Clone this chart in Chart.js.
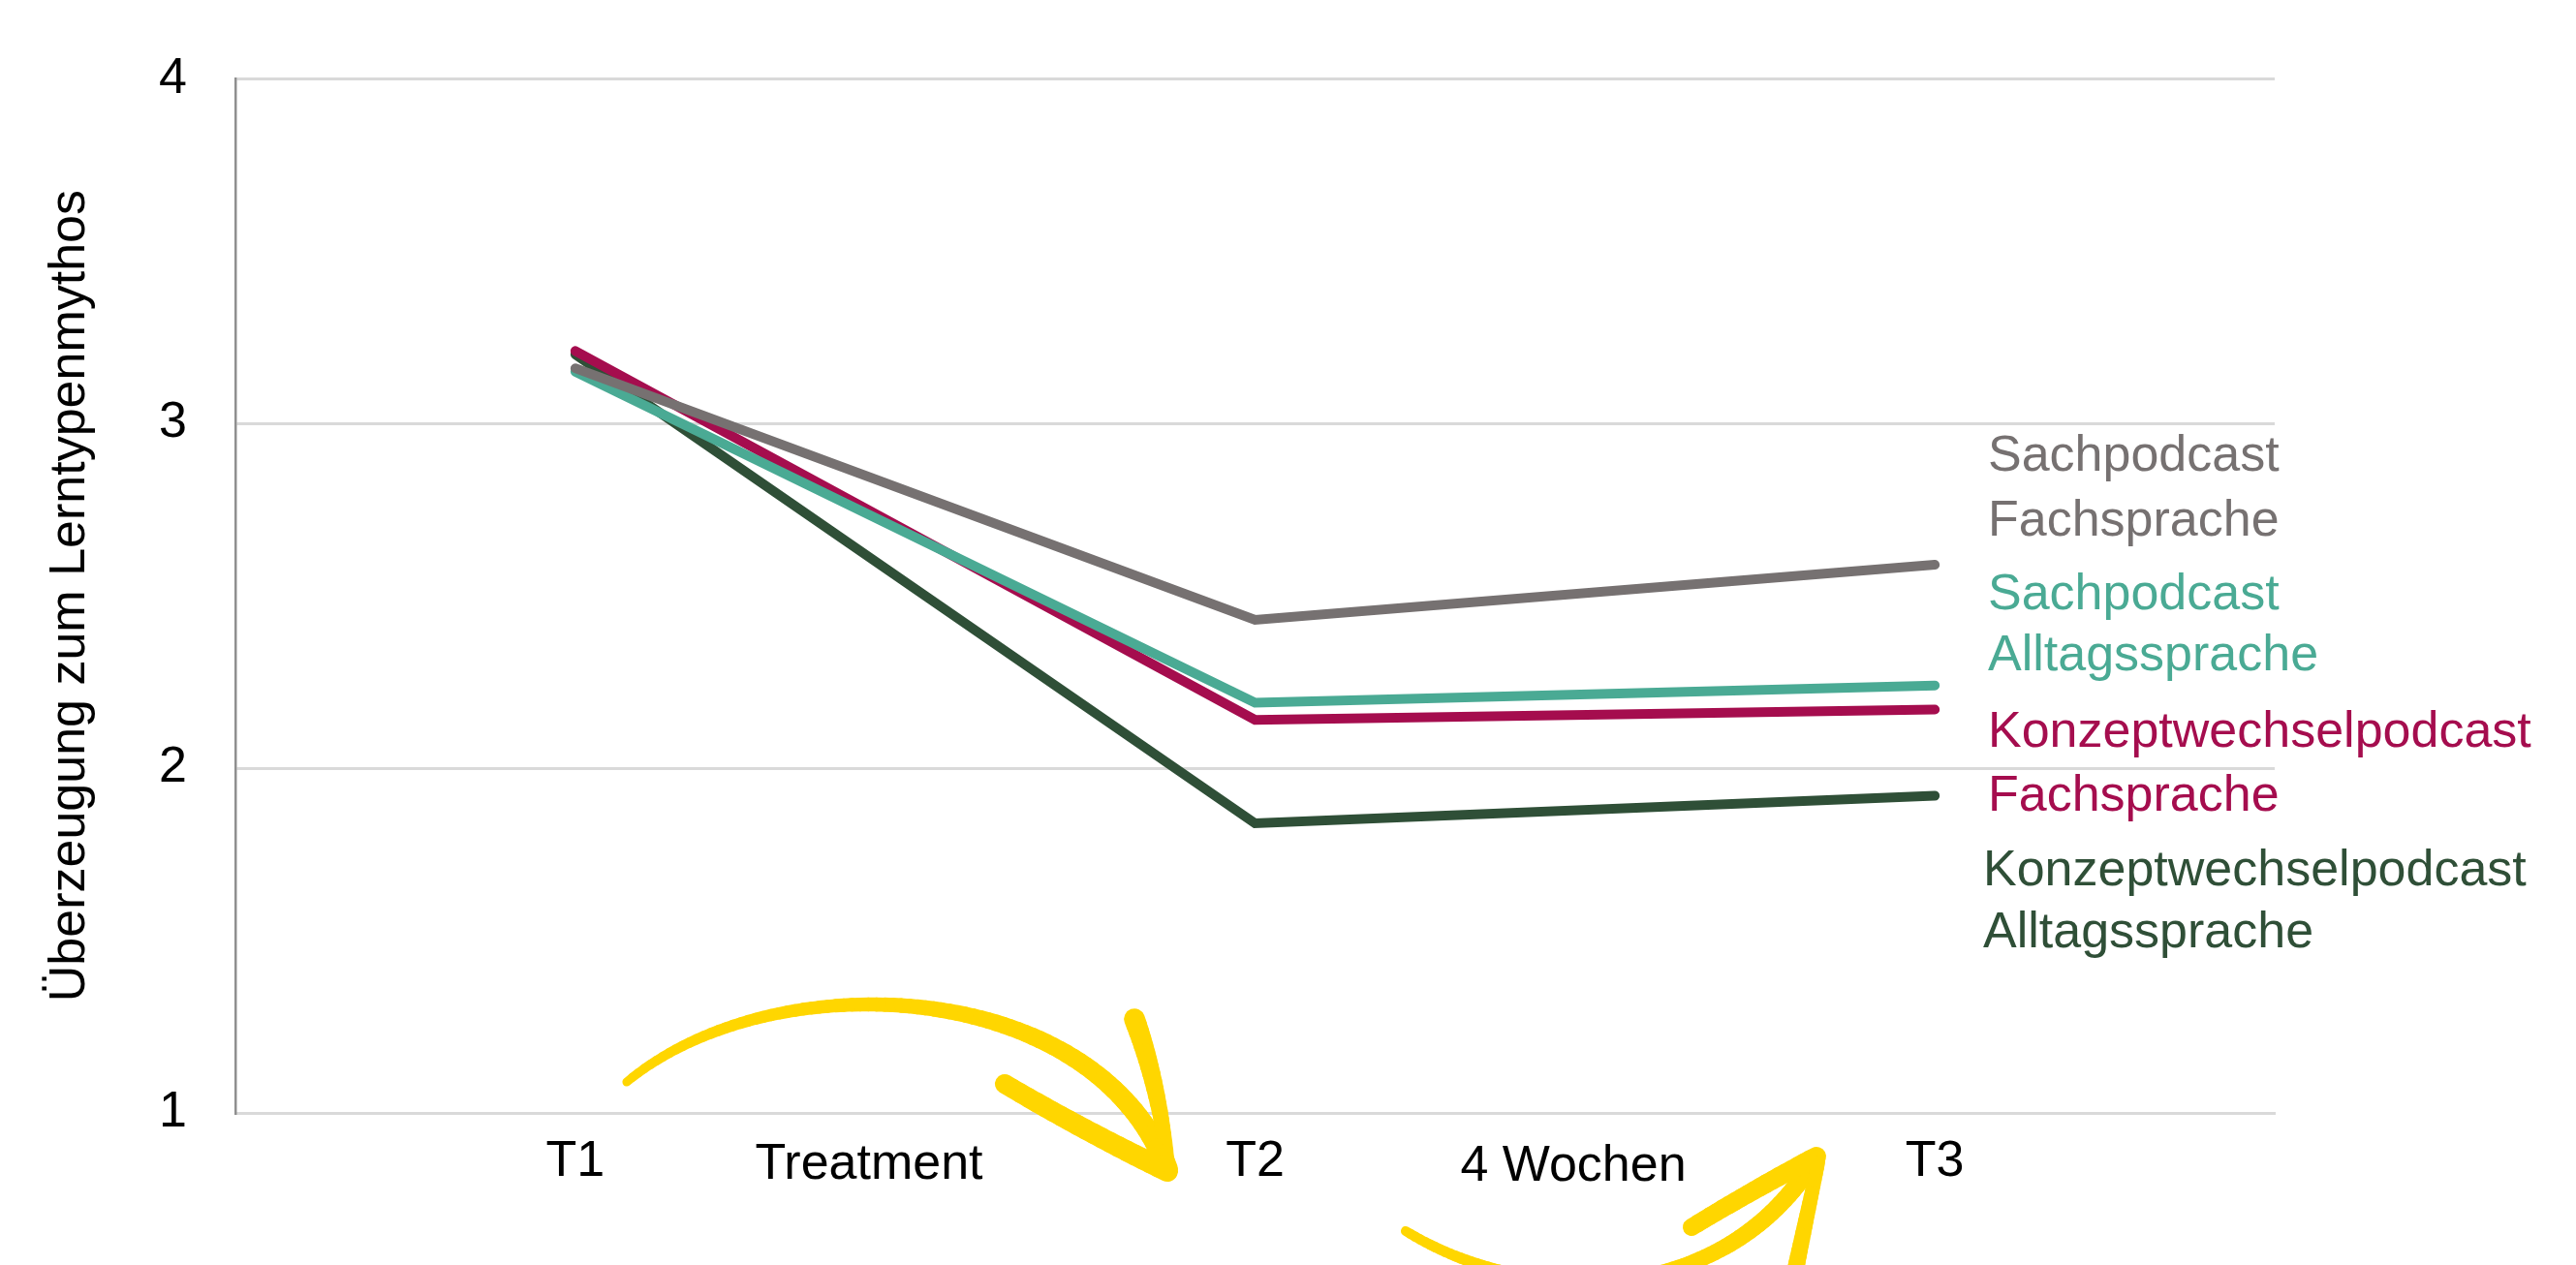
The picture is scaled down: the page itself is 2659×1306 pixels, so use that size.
<!DOCTYPE html>
<html>
<head>
<meta charset="utf-8">
<script src="https://cdn.jsdelivr.net/npm/chart.js@4/dist/chart.umd.min.js"></script>
<style>
  html, body { margin: 0; padding: 0; background: #ffffff; }
  #wrap { width: 2659px; height: 1306px; }
</style>
</head>
<body>
<div id="wrap"><canvas id="c" width="2659" height="1306"></canvas></div>
<script>
// ---------- data ----------
const categories = ['T1', 'T2', 'T3'];
const yTicks = [1, 2, 3, 4];
const seriesNames = [
  'Sachpodcast Fachsprache',
  'Sachpodcast Alltagssprache',
  'Konzeptwechselpodcast Fachsprache',
  'Konzeptwechselpodcast Alltagssprache'
];
const sachFach = [3.16, 2.43, 2.59];
const sachAlltag = [3.15, 2.19, 2.24];
const konzeptFach = [3.21, 2.14, 2.17];
const konzeptAlltag = [3.20, 1.84, 1.92];
const yTitle = 'Überzeugung zum Lerntypenmythos';
const endLabels = [
  ['Sachpodcast', 'Fachsprache'],
  ['Sachpodcast', 'Alltagssprache'],
  ['Konzeptwechselpodcast', 'Fachsprache'],
  ['Konzeptwechselpodcast', 'Alltagssprache']
];
const phaseLabels = ['Treatment', '4 Wochen'];

// ---------- styles ----------
const colors = ['#767171', '#4AAA94', '#A50D4E', '#2F4F37'];
const FONT = '"Liberation Sans", Arial, Helvetica, sans-serif';
const YELLOW = '#FFD600';

// label placement (pixels)
const endLabelX = [2052, 2052, 2052, 2047];
const endLabelY = [[472, 539], [615, 678], [757, 823], [900, 964]];
const phaseX = [897, 1624];
const phaseY = [1203, 1205];

function strokeTapered(ctx, pts, w0, w1) {
  ctx.lineCap = 'round';
  ctx.lineJoin = 'round';
  for (let i = 1; i < pts.length; i++) {
    const t = i / (pts.length - 1);
    ctx.lineWidth = w0 + (w1 - w0) * t;
    ctx.beginPath();
    ctx.moveTo(pts[i - 1][0], pts[i - 1][1]);
    ctx.lineTo(pts[i][0], pts[i][1]);
    ctx.stroke();
  }
}
function cubicPts(p0, c1, c2, p3, n) {
  const out = [];
  for (let i = 0; i <= n; i++) {
    const t = i / n, u = 1 - t;
    out.push([
      u*u*u*p0[0] + 3*u*u*t*c1[0] + 3*u*t*t*c2[0] + t*t*t*p3[0],
      u*u*u*p0[1] + 3*u*u*t*c1[1] + 3*u*t*t*c2[1] + t*t*t*p3[1]
    ]);
  }
  return out;
}
function quadPts(p0, c, p2, n) {
  const out = [];
  for (let i = 0; i <= n; i++) {
    const t = i / n, u = 1 - t;
    out.push([
      u*u*p0[0] + 2*u*t*c[0] + t*t*p2[0],
      u*u*p0[1] + 2*u*t*c[1] + t*t*p2[1]
    ]);
  }
  return out;
}

const decorPlugin = {
  id: 'decor',
  afterDraw(chart) {
    const ctx = chart.ctx;
    ctx.save();
    // end labels
    ctx.font = '52px ' + FONT;
    ctx.textAlign = 'left';
    ctx.textBaseline = 'middle';
    endLabels.forEach((lines, i) => {
      ctx.fillStyle = colors[i];
      lines.forEach((txt, j) => ctx.fillText(txt, endLabelX[i], endLabelY[i][j]));
    });
    // phase labels
    ctx.fillStyle = '#000000';
    ctx.textAlign = 'center';
    phaseLabels.forEach((txt, i) => ctx.fillText(txt, phaseX[i], phaseY[i]));

    // yellow hand-drawn arrows
    ctx.strokeStyle = YELLOW;
    // arrow 1 (T1 -> T2)
    strokeTapered(ctx, cubicPts([647,1117],[800,990],[1130,1010],[1205,1207],80), 9, 22);
    strokeTapered(ctx, quadPts([1037,1119],[1120,1168],[1205,1209],20), 20, 22);
    strokeTapered(ctx, quadPts([1171,1052],[1196,1120],[1206,1205],20), 22, 14);
    // arrow 2 (T2 -> T3)
    strokeTapered(ctx, cubicPts([1451,1271],[1580,1350],[1780,1350],[1873,1197],80), 10, 19);
    strokeTapered(ctx, quadPts([1746,1267],[1810,1228],[1875,1194],20), 18, 20);
    strokeTapered(ctx, quadPts([1851,1322],[1864,1260],[1877,1200],20), 18, 14);
    ctx.restore();
  }
};

const seriesData = [sachFach, sachAlltag, konzeptFach, konzeptAlltag];

new Chart(document.getElementById('c'), {
  type: 'line',
  data: {
    labels: categories,
    datasets: seriesData.map((d, i) => ({
      label: seriesNames[i],
      data: d,
      borderColor: colors[i],
      backgroundColor: colors[i],
      borderWidth: 10,
      borderCapStyle: 'round',
      borderJoinStyle: 'miter',
      pointRadius: 0,
      pointHoverRadius: 0,
      tension: 0,
      fill: false
    }))
  },
  options: {
    responsive: false,
    devicePixelRatio: 1,
    animation: false,
    layout: { padding: { left: 37, top: 72, right: 311, bottom: 0 } },
    plugins: {
      legend: { display: false },
      tooltip: { enabled: false },
      title: { display: false }
    },
    scales: {
      x: {
        type: 'category',
        offset: true,
        grid: { display: false, drawTicks: false },
        border: { display: true, color: '#d9d9d9', width: 3 },
        ticks: {
          color: '#000000',
          font: { family: FONT, size: 52, lineHeight: 1.2 },
          padding: 19,
          maxRotation: 0
        },
        afterFit(scale) { scale.height = 157; }
      },
      y: {
        min: 1,
        max: 4,
        afterBuildTicks(scale) { scale.ticks = yTicks.map(v => ({ value: v })); },
        grid: { color: '#d9d9d9', lineWidth: 3, drawTicks: false },
        border: { display: true, color: '#8f8f8f', width: 2.5 },
        ticks: {
          color: '#000000',
          font: { family: FONT, size: 52, lineHeight: 1.2 },
          padding: 50
        },
        title: {
          display: true,
          text: yTitle,
          color: '#000000',
          font: { family: FONT, size: 52, lineHeight: 1.2 },
          padding: { top: 4, bottom: 4 }
        },
        afterFit(scale) { scale.width = 206; }
      }
    }
  },
  plugins: [decorPlugin]
});
</script>
</body>
</html>
